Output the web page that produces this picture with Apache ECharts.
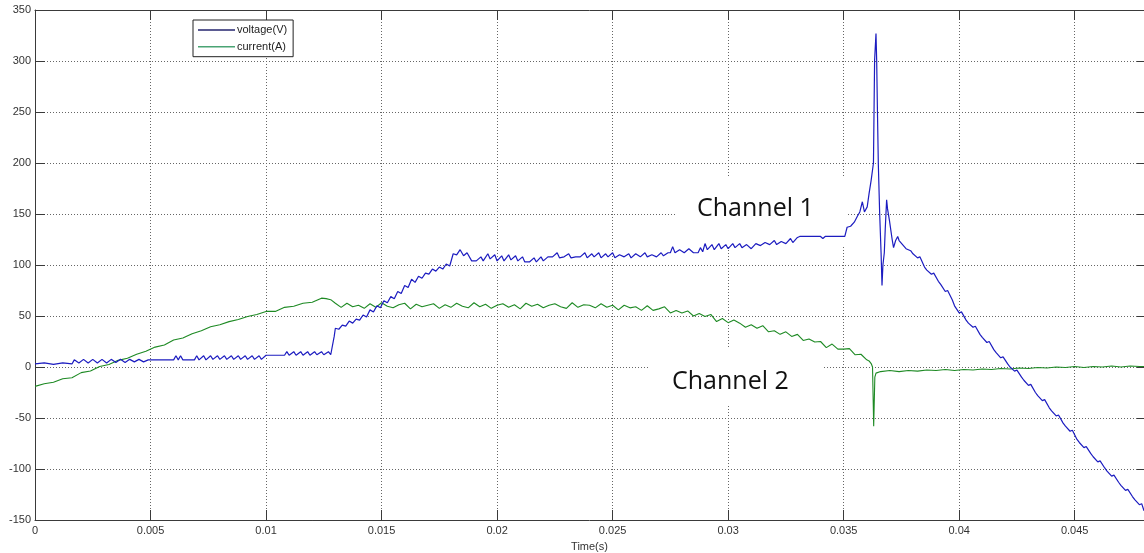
<!DOCTYPE html>
<html>
<head>
<meta charset="utf-8">
<script src="https://cdn.jsdelivr.net/npm/echarts@6/dist/echarts.min.js"></script>
<style>
html,body{margin:0;padding:0;background:#fff;}
#chart{width:1144px;height:553px;}
</style>
</head>
<body>
<div id="chart"></div>
<script>
// ---- data: [time (s), value] ----
const seriesNames = ['voltage(V)', 'current(A)'];
const yTicks = { min: -150, max: 350, step: 50 };
const xTicks = { min: 0, max: 0.048, step: 0.005 };
const annotations = ['Channel 1', 'Channel 2'];

const voltage = [
[0,3],[0.0004,4],[0.0008,2.5],[0.0012,4],[0.0016,3],
[0.0017,7],[0.0019,4],[0.0021,7.5],[0.0023,4],[0.0025,7.5],[0.0027,4],[0.0029,7.5],[0.0031,4],[0.0033,7.5],[0.0035,4.5],[0.0037,7.5],[0.0039,4.5],[0.0041,7.5],[0.0043,5],[0.0045,7.5],[0.0047,5],[0.0049,7],[0.0052,7],
[0.006,7],[0.0061,11],[0.0062,7],[0.0063,11],[0.0064,7],
[0.0069,7],[0.007,11],[0.0071,7],[0.0073,11],[0.0074,7],[0.0076,11],[0.0077,7.5],[0.0079,11],[0.008,7.5],[0.0082,11],[0.0083,7.5],[0.0085,11],[0.0086,7.5],[0.0088,11],[0.0089,7.5],[0.0091,11],[0.0092,7.5],[0.0094,11],[0.0095,7.5],[0.0097,11],[0.0098,7.5],
[0.01,11.5],[0.0108,11.5],[0.0109,15],[0.011,11.5],[0.0112,15],[0.0113,11.5],[0.0115,15],[0.0116,11.5],[0.0118,15],[0.0119,11.5],[0.0121,15],[0.0122,12],[0.0124,15],[0.0125,12],[0.0127,15],[0.0128,12],[0.01285,13],
[0.01295,30],[0.013,38],[0.01315,37],[0.0133,41],[0.01345,40],[0.0136,45],[0.01375,43],[0.0139,47],[0.01405,46],[0.0142,51],[0.01435,49],[0.0145,56],[0.01465,54],[0.0148,60],[0.01495,58],[0.0151,65],[0.01525,63],[0.0154,69],[0.01555,67],[0.0157,74],[0.01585,72],[0.016,80],[0.01615,78],[0.0163,86],[0.01645,83],[0.0166,89],[0.01675,87],[0.0169,92],[0.01705,91],[0.0172,96],[0.01735,94],[0.0175,98],[0.01765,96],[0.0178,101],[0.01795,99],[0.0181,111],[0.01825,110],[0.0184,115],[0.01855,109],[0.0187,112],[0.0189,104],
[0.0191,104],[0.0193,108],[0.0194,104],[0.0196,111],[0.0197,106],[0.0199,110],[0.02,104],[0.0202,109],[0.0203,104],[0.0205,110],[0.0206,105],[0.0208,109],[0.0209,104],[0.0211,108],[0.0212,103],[0.0214,103],[0.0216,107],[0.0217,103],[0.0219,108],[0.022,104],[0.0222,108],[0.0224,108],[0.0226,112],[0.0227,107],[0.0229,108],[0.0231,111],[0.0232,107],[0.0234,108],[0.0236,108],[0.0238,112],[0.0239,107],[0.0241,111],[0.0242,108],[0.0244,112],[0.0245,107],[0.0247,111],[0.0248,108],[0.025,112],[0.0251,107],[0.0253,110],[0.0255,108],[0.0257,111],[0.0258,107],[0.026,111],[0.0262,108],[0.0264,112],[0.0265,108],[0.0267,110],[0.0269,108],[0.0271,112],[0.0272,109],[0.0274,112],[0.0275,112],[0.0276,118],[0.0277,112],[0.0279,115],[0.0281,112],[0.0283,116],[0.0285,112],[0.0287,112],[0.0288,117],[0.0289,113],[0.029,121],[0.0291,115],[0.0293,120],[0.0294,115],[0.0296,121],[0.0297,116],[0.0299,120],[0.03,116],[0.0302,121],[0.0303,117],[0.0305,121],[0.0306,117],[0.0308,120],[0.031,116],[0.0312,121],[0.0314,119],[0.0316,122],[0.0318,120],[0.032,124],[0.0321,120],[0.0323,123],[0.0325,121],[0.0327,126],[0.0328,122],[0.033,127],[0.0331,128],[0.034,128],[0.0341,126],[0.0342,128],[0.0349,128],
[0.03505,128],[0.03515,137],[0.0353,138],[0.03546,142],[0.0356,148],[0.0357,152],[0.03581,162],[0.0359,152],[0.03602,157],[0.0361,170],[0.03619,183],[0.03629,200],[0.03634,301],[0.0364,327],[0.03643,300],[0.03646,255],[0.0365,200],[0.03656,150],[0.03662,112],[0.03666,80],[0.0367,100],[0.03676,112],[0.0368,135],[0.03686,164],[0.0369,155],[0.03698,144],[0.0371,125],[0.03716,117],[0.03725,124],[0.03734,128],[0.0374,124],
[0.0377,116],[0.0379,114],[0.038,111],[0.0382,107],[0.0383,108],[0.0385,98],[0.0386,95],[0.0388,91],[0.0389,92],[0.0391,84],[0.0392,81],[0.0394,74],[0.0395,75],[0.0397,66],[0.0398,60],[0.04,53],[0.0401,54],[0.0403,46],[0.0404,43],[0.0406,39],[0.0407,40],[0.0409,32],[0.041,29],[0.0412,24],[0.0413,25],[0.0415,17],[0.0416,14],[0.0418,9],[0.0419,10],[0.0421,3],[0.0422,0],[0.0424,-4],[0.0425,-3],[0.0427,-10],[0.0428,-13],[0.043,-18],[0.0431,-17],[0.0433,-25],[0.0434,-28],[0.0436,-33],[0.0437,-32],[0.0439,-40],[0.044,-43],[0.0442,-48],[0.0443,-47],[0.0445,-55],[0.0446,-58],[0.0448,-63],[0.0449,-62],[0.0451,-71],[0.0452,-74],[0.0454,-79],[0.0455,-78],[0.0457,-85],[0.0458,-88],[0.046,-93],[0.0461,-92],[0.0463,-99],[0.0464,-102],[0.0466,-107],[0.0467,-106],[0.0469,-113],[0.047,-116],[0.0472,-121],[0.0473,-120],[0.0475,-127],[0.0476,-130],[0.0478,-135],[0.0479,-134],[0.048,-141]
];

const current = [
[0,-19],[0.0004,-16.5],[0.0008,-15],[0.0012,-11.5],[0.0016,-10.5],[0.002,-5.5],[0.0024,-4],[0.0028,0.5],[0.0032,2.5],[0.0036,6.5],[0.004,8.5],[0.0044,12.5],[0.0048,15.5],[0.0052,19.5],[0.0056,21.5],[0.006,26.5],[0.0064,28.5],[0.0068,32.5],[0.0072,35.5],[0.0076,39.5],[0.008,41.5],[0.0084,44.5],[0.0088,46.5],[0.0092,49.5],[0.0096,51.5],[0.01,54.5],[0.0104,54.5],[0.0108,58.5],[0.0112,59.5],[0.0116,62.5],[0.012,63.5],[0.0124,67.5],[0.0126,67],[0.0128,66],
[0.013,62.5],[0.01325,58.5],[0.0135,62.5],[0.01375,59],[0.014,60.5],[0.01425,57.5],[0.0145,62],[0.01475,58.5],[0.015,63],[0.01525,59.5],[0.0155,58],[0.01575,61],[0.016,62.5],[0.01625,57],[0.0165,61.5],[0.01675,59],[0.017,60.5],[0.01725,62],[0.0175,57.5],[0.01775,61],[0.018,58.5],[0.01825,62.5],[0.0185,59.5],[0.01875,58],[0.019,63],[0.01925,59],[0.0195,61.5],[0.01975,57.5],[0.02,60.5],[0.02025,62],[0.0205,58.5],[0.02075,61],[0.021,57],[0.02125,62.5],[0.0215,59.5],[0.02175,61.5],[0.022,58],[0.02225,60.5],[0.0225,62],[0.02275,59],[0.023,57.5],[0.02325,63],[0.0235,58.5],[0.02375,61],[0.024,60.5],[0.02425,58],[0.0245,62],[0.02475,58.5],[0.025,60.5],[0.02525,56],[0.0255,60.5],[0.02575,58],[0.026,59],[0.02625,55.5],[0.0265,60],[0.02675,55.5],[0.027,57],[0.02725,59],[0.0275,53],[0.02775,55.5],[0.028,53],[0.02825,55],[0.0285,50],[0.02875,52.5],[0.029,49.5],[0.02925,51.5],[0.0295,44.5],[0.02975,47.5],[0.03,43.5],[0.03025,46],[0.0305,43],[0.03075,39],[0.031,41.5],[0.03125,38],[0.0315,40.5],[0.03175,34.5],[0.032,35.5],[0.03225,32],[0.0325,34.5],[0.03275,30],[0.033,32],[0.03325,26],[0.0335,27.5],[0.03375,24.5],[0.034,25],[0.03425,19],[0.0345,22.5],[0.03475,17.5],[0.035,17.5],[0.03525,18],[0.0355,12],[0.03575,12.5],[0.036,7],
[0.0361,6],[0.0362,3],[0.03625,0],[0.0363,-58],[0.03635,-10],[0.0364,-6],
[0.0366,-4.5],[0.037,-3.5],[0.0374,-4.5],[0.0378,-3.5],[0.0382,-4],[0.0386,-3],[0.039,-3.5],[0.0394,-2.5],[0.0398,-3.5],[0.0402,-2.5],[0.0406,-3],[0.041,-2],[0.0414,-2.5],[0.0418,-1.5],[0.0422,-2],[0.0426,-1],[0.043,-1.5],[0.0434,-0.5],[0.0438,-1],[0.0442,0],[0.0446,-0.5],[0.045,0.5],[0.0454,-0.5],[0.0458,0.5],[0.0462,0],[0.0466,1],[0.047,0],[0.0474,1],[0.0478,0.5],[0.048,0.5]
];

// ---- chart ----
const chart = echarts.init(document.getElementById('chart'), null, { renderer: 'canvas' });
const axisColor = '#3a3a3a';
const labelStyle = { color: '#333', fontSize: 11, fontFamily: '"Liberation Sans", Arial, sans-serif' };
const gridLine = { show: true, lineStyle: { color: '#666', width: 1, type: [1, 2] } };
const fmtX = v => (Math.abs(v - xTicks.max) < 1e-9 ? '' : String(parseFloat(v.toFixed(4))));

chart.setOption({
  animation: false,
  backgroundColor: '#fff',
  grid: { left: 35, right: 0, top: 10, bottom: 33, containLabel: false, outerBoundsMode: 'none' },
  legend: {
    left: 193, top: 20, orient: 'vertical',
    padding: [3, 6, 3, 5], itemGap: 2.7,
    itemWidth: 37, itemHeight: 1.5,
    backgroundColor: '#fff', borderColor: '#222', borderWidth: 1, borderRadius: 0,
    icon: 'rect',
    textStyle: Object.assign({}, labelStyle, { color: '#222', lineHeight: 14, padding: [0, 0, 0, -3] }),
    data: [
      { name: seriesNames[0], itemStyle: { color: '#24246e' } },
      { name: seriesNames[1], itemStyle: { color: '#4aa474' } }
    ]
  },
  xAxis: [{
    type: 'value', min: xTicks.min, max: xTicks.max, interval: xTicks.step,
    position: 'bottom',
    name: 'Time(s)', nameLocation: 'middle', nameGap: 21,
    nameTextStyle: labelStyle,
    axisLine: { show: true, onZero: false, lineStyle: { color: axisColor, width: 1 } },
    axisTick: { show: true, inside: true, length: 10, lineStyle: { color: axisColor } },
    axisLabel: Object.assign({ margin: 5, showMaxLabel: false, formatter: fmtX }, labelStyle),
    splitLine: gridLine
  }, {
    type: 'value', min: xTicks.min, max: xTicks.max, interval: xTicks.step,
    position: 'top',
    axisLine: { show: true, onZero: false, lineStyle: { color: axisColor, width: 1 } },
    axisTick: { show: true, inside: true, length: 10, lineStyle: { color: axisColor } },
    axisLabel: { show: false },
    splitLine: { show: false }
  }],
  yAxis: [{
    type: 'value', min: yTicks.min, max: yTicks.max, interval: yTicks.step,
    position: 'left',
    axisLine: { show: true, onZero: false, lineStyle: { color: axisColor, width: 1 } },
    axisTick: { show: true, inside: true, length: 10, lineStyle: { color: axisColor } },
    axisLabel: Object.assign({ margin: 4 }, labelStyle),
    splitLine: gridLine
  }, {
    type: 'value', min: yTicks.min, max: yTicks.max, interval: yTicks.step,
    position: 'right',
    axisLine: { show: true, onZero: false, lineStyle: { color: axisColor, width: 1 } },
    axisTick: { show: true, inside: true, length: 7, lineStyle: { color: axisColor } },
    axisLabel: { show: false },
    splitLine: { show: false }
  }],
  graphic: [
    { type: 'rect', z: 1, shape: { x: 677, y: 178, width: 170, height: 67 }, style: { fill: '#fff' }, silent: true },
    { type: 'rect', z: 1, shape: { x: 650, y: 348, width: 173, height: 57 }, style: { fill: '#fff' }, silent: true },
    { type: 'text', z: 1, x: 697, y: 209, style: { text: annotations[0], fill: '#111', font: '25px "Open Sans", sans-serif', align: 'left', verticalAlign: 'middle' }, silent: true },
    { type: 'text', z: 1, x: 672, y: 381.5, style: { text: annotations[1], fill: '#111', font: '25px "Open Sans", sans-serif', align: 'left', verticalAlign: 'middle' }, silent: true }
  ],
  series: [{
    name: seriesNames[1], type: 'line', data: current, xAxisIndex: 0, yAxisIndex: 0,
    showSymbol: false, symbol: 'none', sampling: null, z: 3,
    lineStyle: { color: '#1e8a24', width: 1.1 }, itemStyle: { color: '#1e8a24' }
  }, {
    name: seriesNames[0], type: 'line', data: voltage, xAxisIndex: 0, yAxisIndex: 0,
    showSymbol: false, symbol: 'none', sampling: null, z: 4,
    lineStyle: { color: '#1c1cc0', width: 1.2 }, itemStyle: { color: '#1c1cc0' }
  }]
});
</script>
</body>
</html>
